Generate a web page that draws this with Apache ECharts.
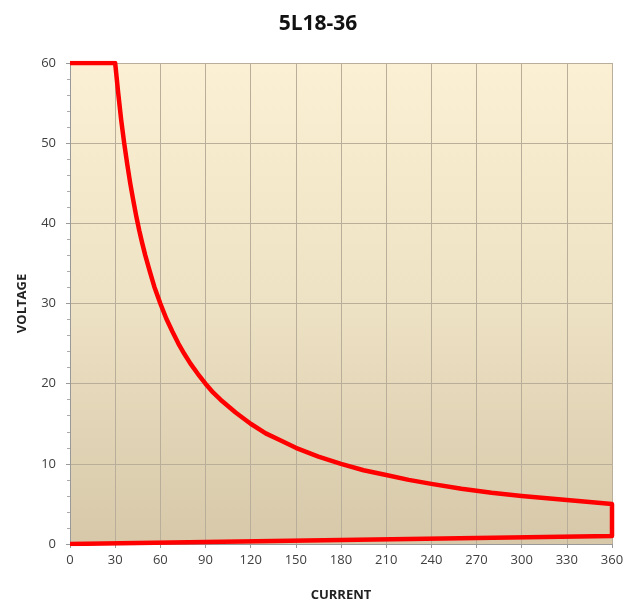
<!DOCTYPE html>
<html><head><meta charset="utf-8">
<script src="https://cdn.jsdelivr.net/npm/echarts@6/dist/echarts.min.js"></script>
<style>html,body{margin:0;padding:0;background:#fff;}#c{width:636px;height:604px;}</style>
</head><body><div id="c"></div>
<script>
var titleText = '5L18-36';
var xName = 'CURRENT';
var yName = 'VOLTAGE';
var current = [0, 30, 32, 34, 36, 38, 40, 42, 44, 46, 48, 50, 53, 56, 60, 64, 68, 72, 76, 80, 85, 90, 95, 100, 110, 120, 130, 140, 150, 165, 180, 195, 210, 225, 240, 260, 280, 300, 330, 360, 360, 0];
var voltage = [60, 60, 56.3, 52.9, 50, 47.4, 45, 42.9, 40.9, 39.1, 37.5, 36, 34, 32.1, 30, 28.1, 26.5, 25, 23.7, 22.5, 21.2, 20, 18.9, 18, 16.4, 15, 13.8, 12.9, 12, 10.9, 10, 9.2, 8.6, 8, 7.5, 6.9, 6.4, 6, 5.5, 5, 1, 0];

var data = current.map(function (c, i) { return [c, voltage[i]]; });
var chart = echarts.init(document.getElementById('c'));
var axisLabel = { color: '#404040', fontSize: 13, fontFamily: 'Open Sans' };
chart.setOption({
  animation: false,
  title: { text: titleText, left: 'center', top: 9, textStyle: { fontSize: 21, fontWeight: 'bold', color: '#111', fontFamily: 'Open Sans' } },
  grid: { left: 70, right: 24, top: 63, bottom: 60, show: true, borderWidth: 0,
    outerBoundsMode: 'none', containLabel: false,
    backgroundColor: { type: 'linear', x: 0, y: 0, x2: 0, y2: 1, colorStops: [
      { offset: 0, color: '#fcf0d4' }, { offset: 0.5, color: '#eee2c4' }, { offset: 1, color: '#d6c8a9' } ] } },
  xAxis: { type: 'value', min: 0, max: 360, interval: 30, name: xName, nameLocation: 'middle', nameGap: 45,
    nameTextStyle: { fontWeight: 'bold', fontSize: 13, color: '#222', fontFamily: 'Open Sans' },
    axisLine: { show: true, lineStyle: { color: '#999' } }, axisTick: { show: true, length: 4, lineStyle: { color: '#999' } },
    axisLabel: Object.assign({ margin: 10 }, axisLabel),
    splitLine: { show: true, lineStyle: { color: '#b8ae9a', width: 1 } } },
  yAxis: { type: 'value', min: 0, max: 60, interval: 10, name: yName, nameLocation: 'middle', nameGap: 41,
    nameTextStyle: { fontWeight: 'bold', fontSize: 13, color: '#222', fontFamily: 'Open Sans' },
    axisLine: { show: true, lineStyle: { color: '#999' } }, axisTick: { show: true, length: 4, lineStyle: { color: '#999' } },
    minorTick: { show: true, splitNumber: 5, length: 3, lineStyle: { color: '#aaa' } },
    axisLabel: Object.assign({ margin: 14 }, axisLabel),
    splitLine: { show: true, lineStyle: { color: '#b8ae9a', width: 1 } } },
  series: [{ type: 'line', data: data, showSymbol: false, symbol: 'none', smooth: false,
    lineStyle: { color: '#ff0000', width: 4.5, join: 'round' }, z: 5 }]
});
</script></body></html>
